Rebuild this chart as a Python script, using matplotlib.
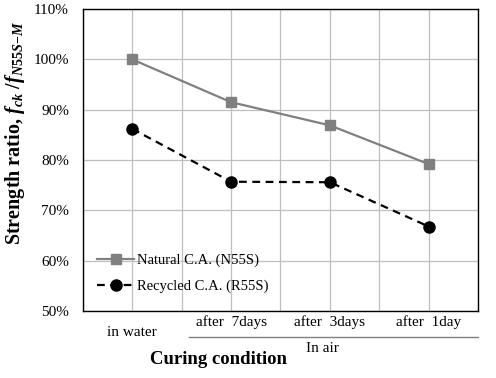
import matplotlib
matplotlib.use('Agg')
import matplotlib.pyplot as plt
import matplotlib.transforms as mtransforms

plt.rcParams['font.family'] = 'Liberation Serif'
plt.rcParams['mathtext.fontset'] = 'custom'
plt.rcParams['mathtext.rm'] = 'Liberation Serif:bold'
plt.rcParams['mathtext.it'] = 'Liberation Serif:bold:italic'
plt.rcParams['mathtext.bf'] = 'Liberation Serif:bold'

# data
conditions = ['in water', 'after  7days', 'after  3days', 'after  1day']
positions = [1, 3, 5, 7]
natural = [100.0, 91.5, 86.9, 79.2]
recycled = [86.2, 75.7, 75.6, 66.8]
yticks = [50, 60, 70, 80, 90, 100, 110]

fig = plt.figure(figsize=(4.96, 3.78), dpi=100)
ax = fig.add_axes([0.167, 0.177, 0.797, 0.799])

ax.plot(positions, natural, color='#808080', lw=1.6, marker='s', ms=7,
        label='Natural C.A. (N55S)')
ax.plot(positions, recycled, color='black', lw=1.6, ls=(0, (3.5, 2.5)), marker='o',
        ms=8, label='Recycled C.A. (R55S)')

ax.set_xlim(0, 8)
ax.set_ylim(50, 110)
ax.set_xticks(range(0, 9))
ax.set_xticklabels([])
ax.set_yticks(yticks)
ax.set_yticklabels(['%d%%' % v for v in yticks], fontsize=11)
ax.tick_params(length=0, pad=10)
ax.grid(True, color='#BFBFBF', lw=0.9)
ax.set_axisbelow(True)
for s in ax.spines.values():
    s.set_linewidth(1.0)
    s.set_color('black')

# category labels below the axis
trans = mtransforms.blended_transform_factory(ax.transData, fig.transFigure)
for i, (p, lab) in enumerate(zip(positions, conditions)):
    if i == 0:
        ax.text(p, 1 - 333 / 378, lab, transform=trans, ha='center', va='center', fontsize=11)
    else:
        ax.text(p, 1 - 322 / 378, lab, transform=trans, ha='center', va='center', fontsize=11)
ax.plot([2.15, 8], [1 - 337 / 378] * 2, transform=trans, color='#808080', lw=1.0,
        clip_on=False)
ax.text(4.85, 1 - 348 / 378, 'In air', transform=trans, ha='center', va='center', fontsize=11)

fig.text(218 / 496, 1 - 360 / 378, 'Curing condition', ha='center', va='center',
         fontsize=13.5, fontweight='bold')
fig.text(15 / 496, 1 - 133 / 378,
         r'Strength ratio, $f_{ck}$ /$f_{N55S\mathrm{-}M}$',
         rotation=90, ha='center', va='center', fontsize=14.5, fontweight='bold')

ax.legend(loc='lower left', bbox_to_anchor=(0.02, 0.04), frameon=False, fontsize=10.5,
          handlelength=2.6, handletextpad=0.2, labelspacing=0.85, borderaxespad=0)

fig.savefig('out.png', dpi=100)
